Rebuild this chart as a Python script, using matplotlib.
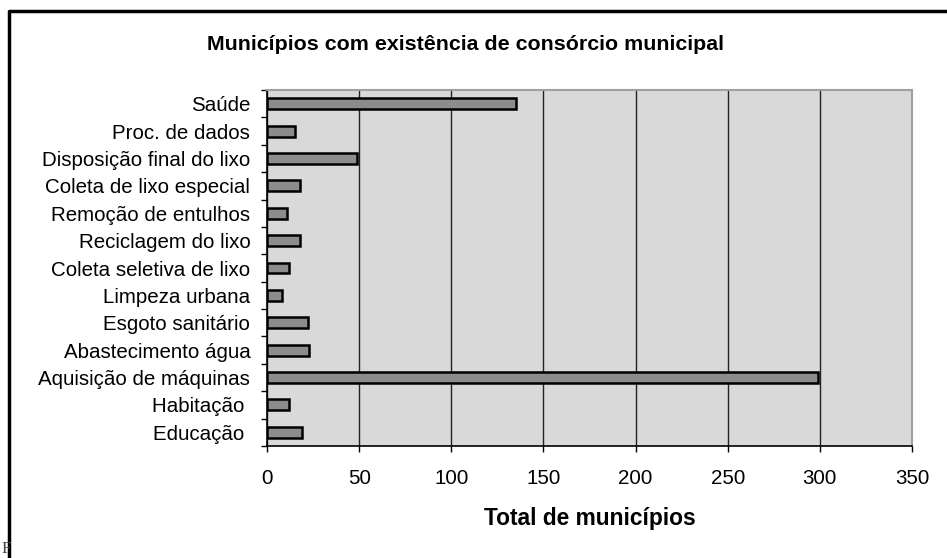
import matplotlib
matplotlib.use("Agg")
import matplotlib.pyplot as plt
from matplotlib.lines import Line2D
import numpy as np

plt.rcParams['font.family'] = ['Liberation Sans', 'DejaVu Sans']

categories = ["Saúde", "Proc. de dados", "Disposição final do lixo",
              "Coleta de lixo especial", "Remoção de entulhos",
              "Reciclagem do lixo", "Coleta seletiva de lixo",
              "Limpeza urbana", "Esgoto sanitário", "Abastecimento água",
              "Aquisição de máquinas", "Habitação ", "Educação "]
values = [135, 15, 49, 18, 11, 18, 12, 8, 22, 23, 299, 12, 19]
xticks = [0, 50, 100, 150, 200, 250, 300, 350]

W, H = 947, 558
fig = plt.figure(figsize=(W / 100, H / 100), dpi=100)
ax = fig.add_axes([267 / W, 1 - 446 / H, (912 - 267) / W, (446 - 90) / H])
ax.set_facecolor('#d9d9d9')

n = len(categories)
ypos = np.arange(n)
ax.barh(ypos, values, height=0.4, color='#8c8c8c', edgecolor='black',
        linewidth=1.8, zorder=3)

ax.set_xlim(0, 350)
ax.set_ylim(n - 0.5, -0.5)
ax.set_xticks(xticks)
ax.set_xticklabels([str(t) for t in xticks], fontsize=14.8)
ax.set_yticks(ypos)
ax.set_yticklabels(categories, fontsize=14.8)
ax.set_yticks(np.arange(n + 1) - 0.5, minor=True)
ax.tick_params(axis='y', which='major', length=0, pad=12)
ax.tick_params(axis='y', which='minor', length=4, direction='out', width=1)
ax.tick_params(axis='x', which='major', length=4, direction='out', width=1, pad=12.5)

ax.grid(axis='x', color='#222222', linewidth=1.0, zorder=1)
ax.set_axisbelow(True)

for s in ['top', 'right']:
    ax.spines[s].set_color('#a0a0a0')
    ax.spines[s].set_linewidth(1.5)
for s in ['left', 'bottom']:
    ax.spines[s].set_color('black')
    ax.spines[s].set_linewidth(1.2)

ax.set_xlabel("Total de municípios", fontsize=16.4, fontweight='bold')
ax.xaxis.set_label_coords(0.5, -0.171)

fig.text(465 / W, 1 - 44 / H, "Municípios com existência de consórcio municipal",
         ha='center', va='center', fontsize=15.4, fontweight='bold')

# outer frame (partially visible)
fig.add_artist(Line2D([9 / W, 9 / W, 1.0], [0.0, 1 - 11 / H, 1 - 11 / H],
                      transform=fig.transFigure, color='black', linewidth=2.5))
fig.text(2 / W, 1 / H, "F", fontsize=12, family='Liberation Serif',
         ha='left', va='bottom', color='#444444')

fig.savefig("out.png", dpi=100)
